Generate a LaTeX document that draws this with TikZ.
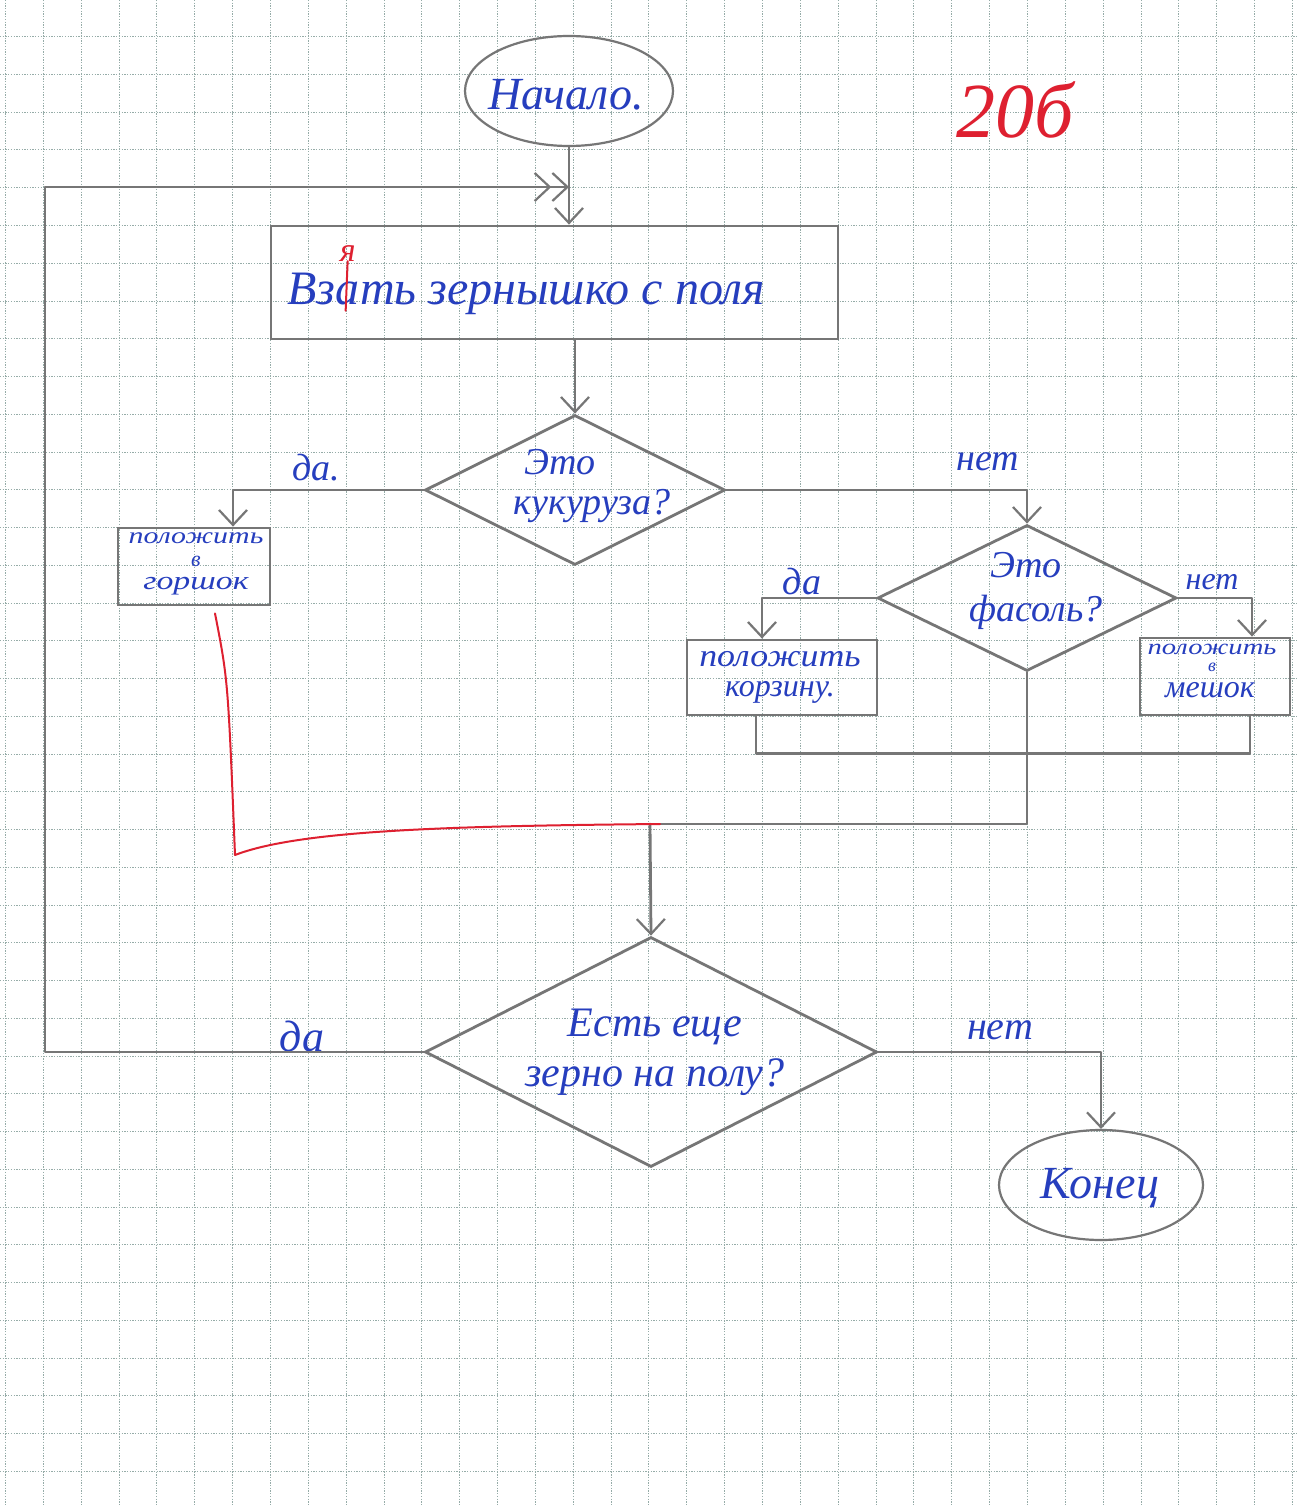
\documentclass[tikz,border=0pt]{standalone}
\usepackage{fontspec}
\setmainfont{Liberation Serif}
\usetikzlibrary{shapes.geometric,arrows.meta,calc}
\definecolor{ink}{RGB}{38,62,190}
\definecolor{redink}{RGB}{222,32,48}
\definecolor{pencil}{RGB}{118,118,118}
\definecolor{gridc}{RGB}{150,172,168}
\newcommand{\hfs}[2]{\fontsize{#1}{#2}\selectfont\itshape}
\begin{document}
\begin{tikzpicture}[x=1pt,y=-1pt,
  gridline/.style={gridc, line width=1pt, dash pattern=on 1.3pt off 1.4pt},
  pline/.style={pencil, line width=2.8pt, line cap=round, line join=round},
  parrow/.style={pline, -{Straight Barb[length=15pt,width=28pt,line width=2.2pt]}},
  term/.style={ellipse, draw=pencil, line width=2.2pt, inner sep=0pt},
  procbox/.style={rectangle, draw=pencil, line width=2.8pt, inner sep=0pt},
  decis/.style={diamond, draw=pencil, line width=2.8pt, inner sep=0pt},
  hand/.style={text=ink, inner sep=0pt, align=center},
  redline/.style={redink, line width=2pt, line cap=round, line join=round},
]
\useasboundingbox (0,0) rectangle (1297,1506);
\fill[white] (0,0) rectangle (1297,1506);
% graph paper
\foreach \i in {0,...,34} \draw[gridline] (5.5+\i*37.85,0) -- (5.5+\i*37.85,1506);
\foreach \j in {1,...,40} \draw[gridline] (0,-1+\j*37.75) -- (1297,-1+\j*37.75);

% shapes
\node[term, minimum width=208pt, minimum height=110pt] (start) at (569,91) {};
\node[hand, font=\hfs{46}{50}] (tstart) at (566,95) {Начало.};

\node[procbox, minimum width=567pt, minimum height=113pt] (r1) at (554.5,282.5) {};
\node[hand, anchor=base west, font=\hfs{48}{50}] (t1a) at (287,304) {Вз};
\node[hand, anchor=base west, font=\hfs{48}{50}] (t1b) at (t1a.base east) {а};
\node[hand, anchor=base west, font=\hfs{48}{50}] (t1c) at (t1b.base east) {ть зернышко с поля};
\node[text=redink, inner sep=0pt, font=\hfs{34}{36}, anchor=south] (ya) at ([yshift=20pt]t1b.north) {я};
\draw[redline] (ya.south) -- ([xshift=-2pt,yshift=-6pt]t1b.south);

\node[decis, minimum width=300pt, minimum height=150pt] (d1) at (575,490) {};
\node[hand, font=\hfs{38}{40}] (td1a) at (560,462) {Это};
\node[hand, font=\hfs{38}{40}] (td1b) at (592,506) {кукуруза?};

\node[procbox, minimum width=152pt, minimum height=77pt] (r2) at (194,566.5) {};
\node[hand, font=\hfs{23}{23}] (tr2a) at (196,538) {\scalebox{1.3}[1]{положить}};
\node[hand, font=\hfs{22}{22}] (tr2b) at (196,561) {в};
\node[hand, font=\hfs{26}{26}] (tr2c) at (196,586) {\scalebox{1.3}[1]{горшок}};

\node[decis, minimum width=299pt, minimum height=146pt] (d2) at (1027,598) {};
\node[hand, font=\hfs{38}{40}] (td2a) at (1026,565) {Это};
\node[hand, font=\hfs{38}{40}] (td2b) at (1036,612) {фасоль?};

\node[procbox, minimum width=190pt, minimum height=75pt] (r3) at (782,677.5) {};
\node[hand, font=\hfs{32}{34}] (tr3) at (780,677) {\scalebox{1.12}[1]{положить}\\[-4pt]корзину.};

\node[procbox, minimum width=150pt, minimum height=77pt] (r4) at (1215,676.5) {};
\node[hand, font=\hfs{22}{19}] (tr4a) at (1212,649) {\scalebox{1.3}[1]{положить}};
\node[hand, font=\hfs{18}{18}] (tr4b) at (1212,667) {в};
\node[hand, font=\hfs{32}{32}] (tr4c) at (1210,690) {мешок};

\node[decis, minimum width=452pt, minimum height=230pt] (d3) at (651,1052) {};
\node[hand, font=\hfs{42}{50}] (td3) at (655,1052) {Есть еще\\зерно на полу?};

\node[term, minimum width=204pt, minimum height=110pt] (stop) at (1101,1185) {};
\node[hand, font=\hfs{46}{50}] (tstop) at (1100,1188) {Конец};

% labels
\node[hand, font=\hfs{38}{40}] (lyes1) at (316,468) {да.};
\node[hand, font=\hfs{38}{40}] (lno1) at (988,462) {нет};
\node[hand, font=\hfs{38}{40}] (lyes2) at (802,582) {да};
\node[hand, font=\hfs{32}{34}] (lno2) at (1212,582) {нет};
\node[hand, font=\hfs{44}{46}] (lyes3) at (302,1036) {да};
\node[hand, font=\hfs{40}{42}] (lno3) at (1000,1030) {нет};
\node[text=redink, inner sep=0pt, font=\hfs{78}{80}] (score) at (1015,110) {20б};

% connectors
\coordinate (lp) at (45,187);
\coordinate (jn) at (650,824);
\draw[parrow] (start.south) -- (start.south |- r1.north);
\draw[pline, -{Straight Barb[length=15pt,width=28pt,line width=2.2pt] Straight Barb[length=15pt,width=28pt,line width=2.2pt]}] (d3.west) -| (lp) -- (lp -| start.south);
\draw[parrow] (r1.south -| d1.north) -- (d1.north);
\draw[parrow] (d1.west) -| ([xshift=39pt]r2.north);
\draw[parrow] (d1.east) -| (d2.north);
\draw[parrow] (d2.west) -| ([xshift=-20pt]r3.north);
\draw[parrow] (d2.east) -| ([xshift=37pt]r4.north);
\draw[pline] ([xshift=-26pt]r3.south) -- ++(0,37) -| ([xshift=35pt]r4.south);
\draw[pline] (d2.south) -- (d2.south |- jn) -- (jn);
\draw[parrow] (jn) -- (d3.north);
\draw[parrow] (d3.east) -| (stop.north);
% red correction
\coordinate (rc) at (235,855);
\draw[redline] ([xshift=21pt,yshift=-7pt]r2.south) .. controls (228,680) .. (rc)
  .. controls (300,830) and (450,826) .. ([xshift=10pt]jn);
\end{tikzpicture}
\end{document}
